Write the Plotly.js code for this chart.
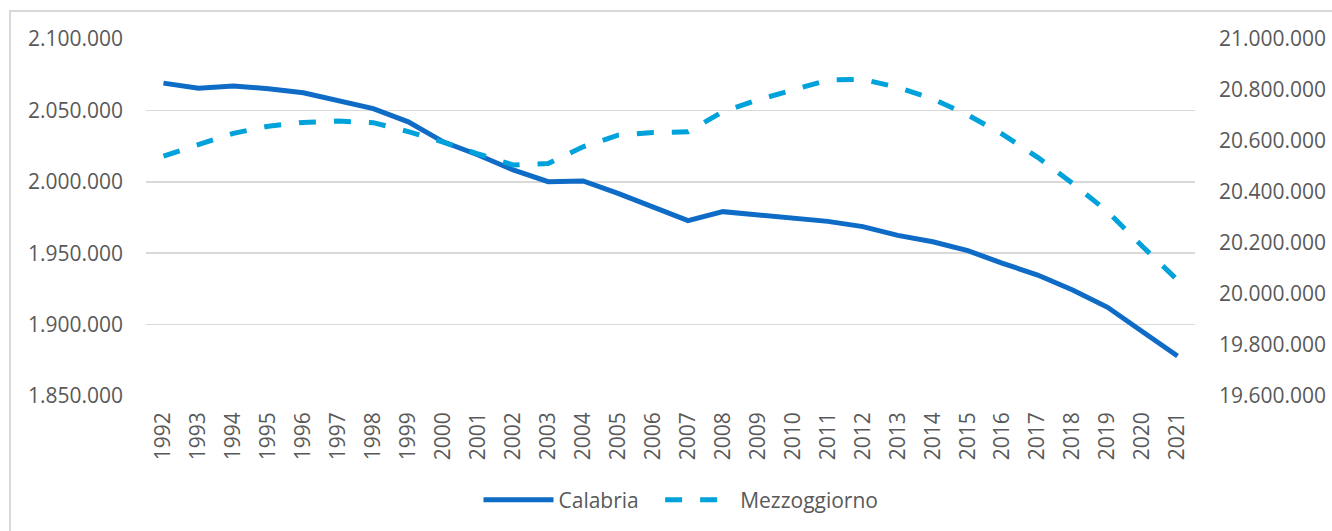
<!DOCTYPE html>
<html>
<head>
<meta charset="utf-8">
<script src="https://cdn.plot.ly/plotly-3.0.1.min.js"></script>
<style>
html,body{margin:0;padding:0;background:#fff;overflow:hidden;}
#frame{position:absolute;left:9px;top:10px;width:1400px;height:600px;border-left:2px solid #d9d9d9;border-top:2px solid #d9d9d9;box-sizing:border-box;}
#chart{position:absolute;left:0;top:0;width:1332px;height:531px;}
</style>
</head>
<body>
<div id="frame"></div>
<div id="chart"></div>
<script>
const years = ["1992","1993","1994","1995","1996","1997","1998","1999","2000","2001","2002","2003","2004","2005","2006","2007","2008","2009","2010","2011","2012","2013","2014","2015","2016","2017","2018","2019","2020","2021"];
const calabria = [2069100,2065500,2067100,2065200,2062400,2057300,2051300,2042000,2028000,2018800,2008300,2000100,2000600,1991900,1982300,1972800,1979100,1976800,1973900,1972300,1968600,1962500,1958000,1951800,1942900,1934700,1924200,1912100,1895000,1878000];
const mezzogiorno = [20541000,20585000,20630000,20658000,20673000,20678000,20672000,20637000,20596000,20549000,20506000,20512000,20577000,20623000,20633000,20636000,20715000,20761000,20800000,20839000,20842000,20810000,20765000,20702000,20626000,20536000,20434000,20323000,20186000,20055000];
const leftTicks = [1850000,1900000,1950000,2000000,2050000,2100000];
const rightTicks = [19600000,19800000,20000000,20200000,20400000,20600000,20800000,21000000];
const seriesNames = ["Calabria", "Mezzoggiorno"];

const font = {family:"Open Sans, sans-serif", size:21, color:"#595959"};
const traces = [
  {x:years, y:calabria, name:seriesNames[0] + "\u00A0\u00A0\u00A0", type:"scatter", mode:"lines",
   line:{color:"#0f6cc6", width:5}, yaxis:"y"},
  {x:years, y:mezzogiorno, name:seriesNames[1], type:"scatter", mode:"lines",
   line:{color:"#00a2dc", width:5, dash:"17px,18px"}, yaxis:"y2"}
];
const layout = {
  width:1332, height:531,
  margin:{l:146, r:137, t:39, b:135},
  paper_bgcolor:"rgba(0,0,0,0)", plot_bgcolor:"rgba(0,0,0,0)",
  separators:",.",
  font:font,
  showlegend:true,
  legend:{orientation:"h", x:0.51, xref:"paper", xanchor:"center", yref:"container", y:0.058, yanchor:"middle", font:font, itemwidth:70, traceorder:"normal"},
  xaxis:{type:"category", range:[-0.5,29.5], tickangle:-90, showgrid:false, zeroline:false, showline:false, ticks:"", tickfont:font, fixedrange:true, automargin:false, ticklabelstandoff:11},
  yaxis:{range:[1850000,2100000], tickvals:leftTicks, tickformat:",d", showgrid:true, gridcolor:"#d9d9d9", gridwidth:1.5, zeroline:false, showline:false, ticks:"", tickfont:font, ticklabelstandoff:22, automargin:false},
  yaxis2:{range:[19600000,21000000], tickvals:rightTicks, tickformat:",d", overlaying:"y", side:"right", showgrid:false, zeroline:false, showline:false, ticks:"", tickfont:font, ticklabelstandoff:23, automargin:false}
};
Plotly.newPlot("chart", traces, layout, {staticPlot:true});
</script>
</body>
</html>
